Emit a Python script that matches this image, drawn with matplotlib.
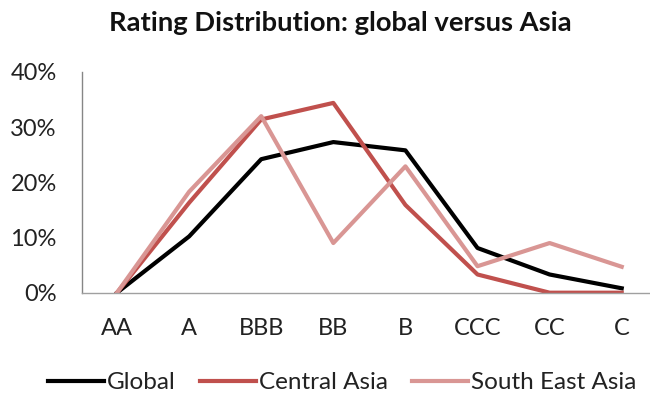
import matplotlib
matplotlib.use("Agg")
import matplotlib.pyplot as plt
from matplotlib.ticker import FuncFormatter

plt.rcParams['font.family'] = ['Lato', 'DejaVu Sans']

categories = ["AA", "A", "BBB", "BB", "B", "CCC", "CC", "C"]
global_pct = [0.0, 10.2, 24.2, 27.3, 25.8, 8.1, 3.3, 0.8]
central_asia_pct = [0.0, 16.3, 31.4, 34.4, 15.9, 3.3, 0.0, 0.0]
south_east_asia_pct = [0.0, 18.3, 32.0, 9.0, 22.9, 4.8, 9.0, 4.7]
y_ticks = [0, 10, 20, 30, 40]

fig = plt.figure(figsize=(6.5, 3.96), dpi=100)
ax = fig.add_axes([81.7 / 650, 1 - 292.7 / 396, (8 * 72.1) / 650, (292.7 - 72) / 396])

x = list(range(len(categories)))
ax.plot(x, global_pct, color="black", lw=3.0, label="Global")
ax.plot(x, central_asia_pct, color="#C0504D", lw=3.0, label="Central Asia")
ax.plot(x, south_east_asia_pct, color="#D99694", lw=3.0, label="South East Asia")

ax.set_xlim(-0.49, 7.51)
ax.set_ylim(0, 40)
ax.set_xticks(x)
ax.set_xticklabels(categories)
ax.set_yticks(y_ticks)
ax.yaxis.set_major_formatter(FuncFormatter(lambda v, p: f"{v:.0f}%"))
ax.tick_params(axis="both", length=0, labelsize=17, colors="#222222")
ax.tick_params(axis="y", pad=18)
ax.tick_params(axis="x", pad=18)

for side in ["top", "right"]:
    ax.spines[side].set_visible(False)
ax.spines["left"].set_color("#868686")
ax.spines["bottom"].set_color("#A0A0A0")
ax.spines["left"].set_linewidth(1.0)
ax.spines["bottom"].set_linewidth(1.0)

fig.text(0.524, 0.942, "Rating Distribution: global versus Asia",
         ha="center", va="center", fontsize=19.7, fontweight="bold", color="#111111")

fig.legend(loc="center", bbox_to_anchor=(0.527, 0.033), ncol=3, frameon=False,
           fontsize=17.5, handlelength=2.3, handletextpad=0.12, columnspacing=1.0,
           labelcolor="#222222")

fig.savefig("out.png", dpi=100)
